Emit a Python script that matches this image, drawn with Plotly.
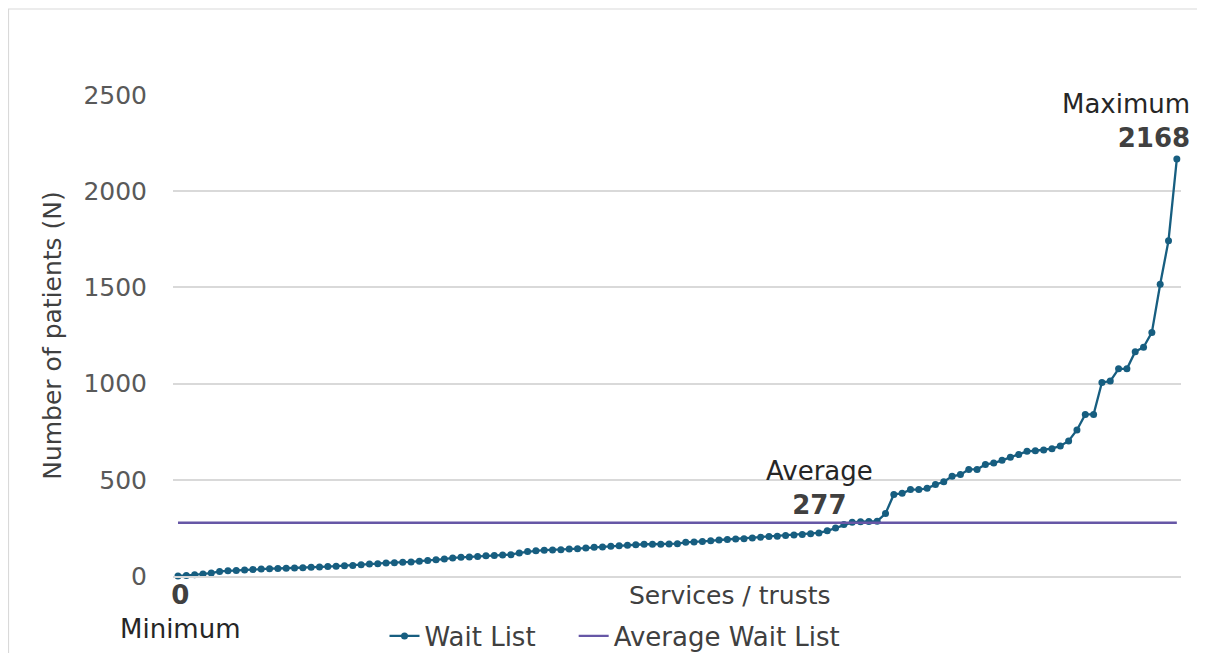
import plotly.graph_objects as go

# ---- data -------------------------------------------------------------
wait_list = [
    0, 2, 6, 11, 15, 24, 27, 29, 31, 34, 36, 38, 39, 40, 41, 43, 45, 47, 49, 51, 53, 55, 59, 62,
    64, 68, 69, 71,
    73, 77, 80, 84, 88, 94, 97, 99, 102, 105, 107, 109, 111,
    120, 127, 131, 134, 135, 137,
    140, 142, 146, 149, 151, 154, 157, 160, 163,
    165, 165, 165, 166, 168,
    175, 177, 179, 183, 187, 190, 192, 194, 198,
    202, 205, 207, 210, 213, 216, 220, 224, 235, 250, 268,
    279, 282, 283, 285, 325, 424,
    430, 449, 449, 456, 475, 490, 518, 527, 554, 554, 580, 587, 601, 617, 631, 648, 651,
    655, 662, 676, 702, 759, 840, 840,
    1006, 1013, 1077, 1077, 1166, 1189, 1266, 1516, 1743, 2168,
]
services = list(range(len(wait_list)))
average_value = 277
minimum_value = 0
maximum_value = 2168
y_ticks = [0, 500, 1000, 1500, 2000, 2500]

series_names = ["Wait List", "Average Wait List"]
x_title = "Services / trusts"
y_title = "Number of patients (N)"

# ---- styling ----------------------------------------------------------
FONT = "DejaVu Sans"
FS = 25
FS_ANN = 26
BLUE = "#175E80"
PURPLE = "#6657A6"
GRID = "#D9D9D9"
BOLD_COL = "#404040"

# figure pixel geometry (plot area)
L, T, W, H = 165, 87, 1008, 481
FIG_W, FIG_H = 1205, 653


def px_to_paper_x(px):
    return (px - L) / W


def px_to_paper_y(py):
    return (T + H - py) / H


PAD = "\u00a0" * 4  # spacing after first legend entry

fig = go.Figure()
fig.add_trace(go.Scatter(
    x=services, y=wait_list, name=series_names[0] + PAD, mode="lines+markers",
    line=dict(color=BLUE, width=2.3), marker=dict(color=BLUE, size=7),
    cliponaxis=False,
))
fig.add_trace(go.Scatter(
    x=services, y=[average_value] * len(services), name=series_names[1], mode="lines",
    line=dict(color=PURPLE, width=2.4), cliponaxis=False,
))

n = len(services)
fig.update_xaxes(
    range=[-0.6, n - 1 + 0.5], showgrid=False, showticklabels=False, zeroline=False,
    showline=True, linecolor=GRID, linewidth=1.5, ticks="",
)
fig.update_yaxes(
    range=[0, 2500], tickvals=y_ticks, showgrid=True, gridcolor=GRID, gridwidth=1.5,
    zeroline=False, showline=False, ticks="", ticklabelstandoff=25,
    tickfont=dict(family=FONT, size=FS, color="#595959"),
    title=dict(text=y_title, font=dict(family=FONT, size=FS, color="#404040"), standoff=14),
)


def bold(v):
    return f"<b><span style='color:{BOLD_COL}'>{v}</span></b>"


annos = [
    dict(x=0, y=minimum_value, text=bold(minimum_value) + "<br>Minimum", xshift=3, yshift=-36,
         xanchor="center", align="center"),
    dict(x=77, y=average_value, text="Average<br>" + bold(average_value), xshift=1, yshift=35,
         xanchor="center", align="center"),
    dict(x=n - 1, y=maximum_value, text="Maximum<br>" + bold(maximum_value), xshift=15, yshift=38,
         xanchor="right", align="right"),
]
for a in annos:
    a.update(xref="x", yref="y", showarrow=False, yanchor="middle",
             font=dict(family=FONT, size=FS_ANN, color="#262626"))
    fig.add_annotation(**a)

# x axis title (placed like the original)
fig.add_annotation(xref="paper", yref="paper", x=px_to_paper_x(722), y=px_to_paper_y(587),
                   text=x_title, showarrow=False, xanchor="center", yanchor="middle",
                   font=dict(family=FONT, size=FS, color="#404040"))

# chart border
fig.add_shape(type="rect", xref="paper", yref="paper",
              x0=px_to_paper_x(0.5), x1=px_to_paper_x(FIG_W + 20),
              y0=px_to_paper_y(FIG_H + 40), y1=px_to_paper_y(1),
              line=dict(color="#D9D9D9", width=1.2), fillcolor="rgba(0,0,0,0)", layer="below")

fig.update_layout(
    width=FIG_W, height=FIG_H,
    margin=dict(l=L, r=FIG_W - L - W, t=T, b=FIG_H - T - H, autoexpand=False),
    paper_bgcolor="white", plot_bgcolor="white",
    font=dict(family=FONT, color="#404040"),
    showlegend=True,
    legend=dict(orientation="h", x=px_to_paper_x(607), y=px_to_paper_y(628),
                xanchor="center", yanchor="middle",
                font=dict(family=FONT, size=26, color="#404040"),
                tracegroupgap=0, bgcolor="rgba(0,0,0,0)"),
)

fig.write_html("out.html")
